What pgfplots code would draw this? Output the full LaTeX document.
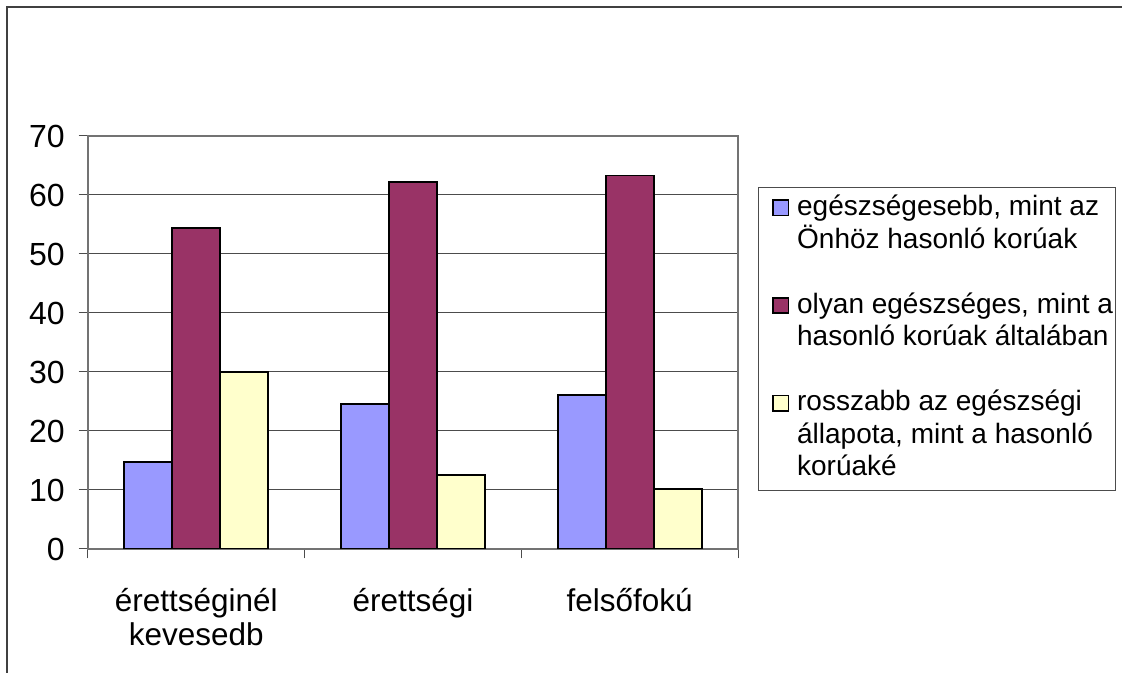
\documentclass[border=0pt]{standalone}
\usepackage{pgfplots}
\pgfplotsset{compat=1.18}
\usepackage{fontspec}
\setmainfont{Liberation Sans}
\definecolor{cA}{HTML}{9999FF}
\definecolor{cB}{HTML}{993366}
\definecolor{cC}{HTML}{FFFFCC}
\pgfplotsset{sq/.style={legend image code/.code={\path (0pt,0pt); \draw[##1,draw=black,line width=1.2pt] (8.5pt,0pt) rectangle (20pt,11.5pt);}},
  blank/.style={legend image code/.code={\path (0pt,0pt);}}}
\begin{document}
\begin{tikzpicture}
\useasboundingbox (0,0) rectangle (841.5pt,504.75pt);
\draw[black!75, line width=1.5pt] (5.25pt,0pt) -- (5.25pt,499.5pt) -- (841.5pt,499.5pt);
\begin{axis}[
  at={(66pt,93pt)}, anchor=south west,
  scale only axis, width=487.5pt, height=309.75pt,
  xmin=-0.5, xmax=2.5, ymin=0, ymax=70,
  ybar=0pt, bar width=36pt,
  xtick={-0.5,0.5,1.5,2.5}, xticklabels={},
  extra x ticks={0,1,2},
  extra x tick labels={{érettséginél\\kevesedb},érettségi,felsőfokú},
  extra x tick style={major tick length=0pt, grid=none},
  xticklabel style={align=center, font=\fontsize{23.6}{25.3}\selectfont, yshift=-26pt},
  ytick={0,10,...,70},
  ymajorgrids, grid style={black!70, line width=0.75pt},
  yticklabel style={font=\fontsize{24}{27}\selectfont, xshift=-7pt},
  /pgf/number format/assume math mode=true,
  tick align=outside, major tick length=7pt, tick pos=left,
  tick style={black!70, line width=0.75pt},
  axis line style={black!55, line width=1.1pt},
  legend style={at={(1.0308,0.8765)}, anchor=north west, draw=black!70, line width=0.75pt,
     font=\fontsize{21}{23.8}\selectfont, row sep=0.5pt, column sep=6pt,
     inner xsep=2pt, inner ysep=4pt,
     cells={anchor=base west},
     nodes={inner sep=0pt, text height=17pt, text depth=6.9pt}},
]
\addplot[fill=cA, draw=black, line width=1.4pt, bar shift=-36pt, forget plot] coordinates {(0,14.8) (1,24.6) (2,26.1)};
\addplot[fill=cB, draw=black, line width=1.4pt, bar shift=0pt, forget plot] coordinates {(0,54.4) (1,62.2) (2,63.3)};
\addplot[fill=cC, draw=black, line width=1.4pt, bar shift=36pt, forget plot] coordinates {(0,30.0) (1,12.5) (2,10.1)};
\addlegendimage{sq, fill=cA}
\addlegendentry{egészségesebb, mint az}
\addlegendimage{blank}
\addlegendentry{Önhöz hasonló korúak}
\addlegendimage{blank}
\addlegendentry{\phantom{x}}
\addlegendimage{sq, fill=cB}
\addlegendentry{olyan egészséges, mint a}
\addlegendimage{blank}
\addlegendentry{hasonló korúak általában}
\addlegendimage{blank}
\addlegendentry{\phantom{x}}
\addlegendimage{sq, fill=cC}
\addlegendentry{rosszabb az egészségi}
\addlegendimage{blank}
\addlegendentry{állapota, mint a hasonló}
\addlegendimage{blank}
\addlegendentry{korúaké}
\end{axis}
\end{tikzpicture}
\end{document}
